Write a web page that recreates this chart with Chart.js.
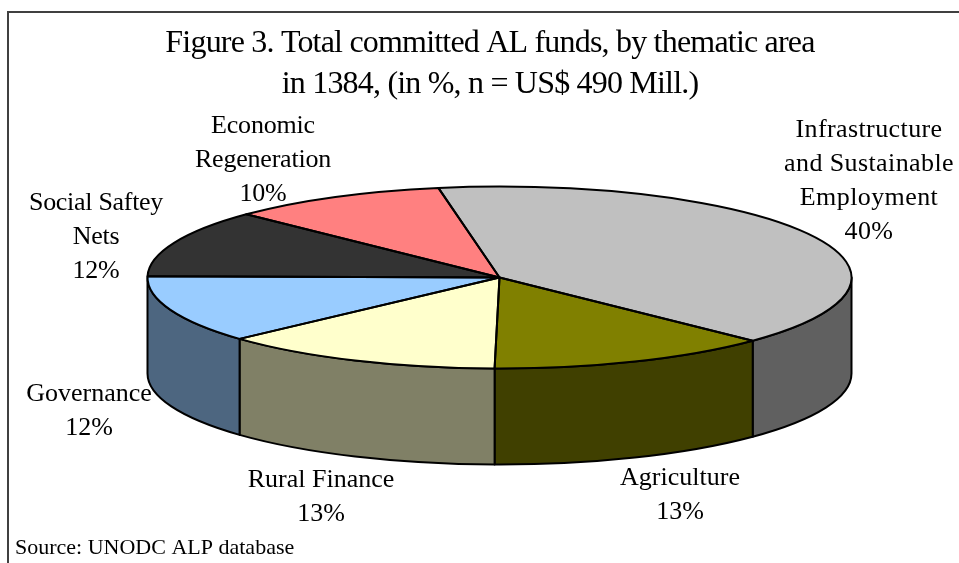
<!DOCTYPE html>
<html>
<head>
<meta charset="utf-8">
<title>Figure 3</title>
<script src="https://cdn.jsdelivr.net/npm/chart.js@4"></script>
<style>
    html, body { margin: 0; padding: 0; background: #fff; overflow: hidden; }
    canvas { display: block; }
</style>
</head>
<body>
<canvas id="pie" width="959" height="563"></canvas>
<script>
// -----------------------------
// Data
// -----------------------------
const categories = ['Infrastructure and Sustainable Employment', 'Agriculture', 'Rural Finance', 'Governance', 'Social Saftey Nets', 'Economic Regeneration'];
const shares = [40, 13, 13, 12, 12, 10];
const topColors = ['#C0C0C0', '#808000', '#FFFFCC', '#99CCFF', '#333333', '#FF8080'];
const wallColors = ['#606060', '#404000', '#808066', '#4D6680', '#1a1a1a', '#804040'];
const titleLines = ['Figure 3. Total committed AL funds, by thematic area', 'in 1384, (in %, n = US$ 490 Mill.)'];
const sourceNote = 'Source: UNODC ALP database';

// label lines per slice, same order as categories
const labelLines = [
    ['Infrastructure', 'and Sustainable', 'Employment'],
    ['Agriculture'],
    ['Rural Finance'],
    ['Governance'],
    ['Social Saftey', 'Nets'],
    ['Economic', 'Regeneration']
];

// -----------------------------
// Layout of the tilted pie
// -----------------------------
const tilt = { cx: 499.5, cy: 277.5, rx: 352, ry: 91, depth: 96 };
const labelAnchors = [[869, 137], [680, 485], [321, 487], [89, 400.5], [96, 210], [263, 133]];
const labelTracking = ['0.4px', '0px', '0px', '0px', '-0.3px', '-0.2px'];
const labelLeading = 34;

function applyTilt(ctx, arc) {
    ctx.translate(tilt.cx, tilt.cy);
    ctx.scale(tilt.rx / arc.outerRadius, tilt.ry / arc.outerRadius);
    ctx.translate(-arc.x, -arc.y);
}

// the side of the disc, only the part of each slice facing the viewer
function drawWall(ctx, arc, color) {
    [0, Math.PI * 2, -Math.PI * 2].forEach(shift => {
        const a0 = Math.max(arc.startAngle + shift, 0);
        const a1 = Math.min(arc.endAngle + shift, Math.PI);
        if (a1 <= a0) return;
        ctx.beginPath();
        ctx.ellipse(tilt.cx, tilt.cy, tilt.rx, tilt.ry, 0, a0, a1);
        ctx.ellipse(tilt.cx, tilt.cy + tilt.depth, tilt.rx, tilt.ry, 0, a1, a0, true);
        ctx.closePath();
        ctx.fillStyle = color;
        ctx.fill();
        ctx.stroke();
    });
}

const tiltedPie = {
    id: 'tiltedPie',
    beforeDatasetDraw(chart) {
        const ctx = chart.ctx;
        const arcs = chart.getDatasetMeta(0).data;
        ctx.save();
        ctx.strokeStyle = '#000';
        ctx.lineWidth = 2;
        ctx.lineJoin = 'round';
        arcs.forEach((arc, i) => drawWall(ctx, arc, wallColors[i]));
        ctx.restore();
        ctx.save();
        applyTilt(ctx, arcs[0]);
    },
    afterDatasetDraw(chart) {
        const ctx = chart.ctx;
        ctx.restore();
        // outlines stroked after restore so the pen stays round
        chart.getDatasetMeta(0).data.forEach(arc => {
            ctx.save();
            ctx.beginPath();
            ctx.moveTo(tilt.cx, tilt.cy);
            ctx.ellipse(tilt.cx, tilt.cy, tilt.rx, tilt.ry, 0, arc.startAngle, arc.endAngle);
            ctx.closePath();
            ctx.strokeStyle = '#000';
            ctx.lineWidth = 2;
            ctx.lineJoin = 'round';
            ctx.stroke();
            ctx.restore();
        });
    },
    afterDraw(chart) {
        const ctx = chart.ctx;
        ctx.save();

        // frame, open on the right and at the bottom like the cropped original
        ctx.strokeStyle = '#404040';
        ctx.lineWidth = 2;
        ctx.beginPath();
        ctx.moveTo(8, 563);
        ctx.lineTo(8, 12);
        ctx.lineTo(959, 12);
        ctx.stroke();

        ctx.fillStyle = '#000';
        ctx.textBaseline = 'alphabetic';

        ctx.textAlign = 'center';
        ctx.font = '32px "Liberation Serif"';
        ctx.letterSpacing = '-0.8px';
        titleLines.forEach((line, i) => ctx.fillText(line, 490, 52 + i * 41));

        ctx.font = '26px "Liberation Serif"';
        labelLines.forEach((lines, i) => {
            const [x, y] = labelAnchors[i];
            ctx.letterSpacing = labelTracking[i];
            lines.concat(shares[i] + '%').forEach((line, j) => ctx.fillText(line, x, y + j * labelLeading));
        });
        ctx.letterSpacing = '0px';

        ctx.textAlign = 'left';
        ctx.font = '22px "Liberation Serif"';
        ctx.fillText(sourceNote, 15, 554);
        ctx.restore();
    }
};

new Chart(document.getElementById('pie'), {
    type: 'pie',
    data: {
        labels: categories,
        datasets: [{
            data: shares,
            backgroundColor: topColors,
            borderWidth: 0,
            clip: false
        }]
    },
    options: {
        responsive: false,
        animation: false,
        rotation: -10,
        plugins: { legend: { display: false }, tooltip: { enabled: false }, title: { display: false } }
    },
    plugins: [tiltedPie]
});
</script>
</body>
</html>
